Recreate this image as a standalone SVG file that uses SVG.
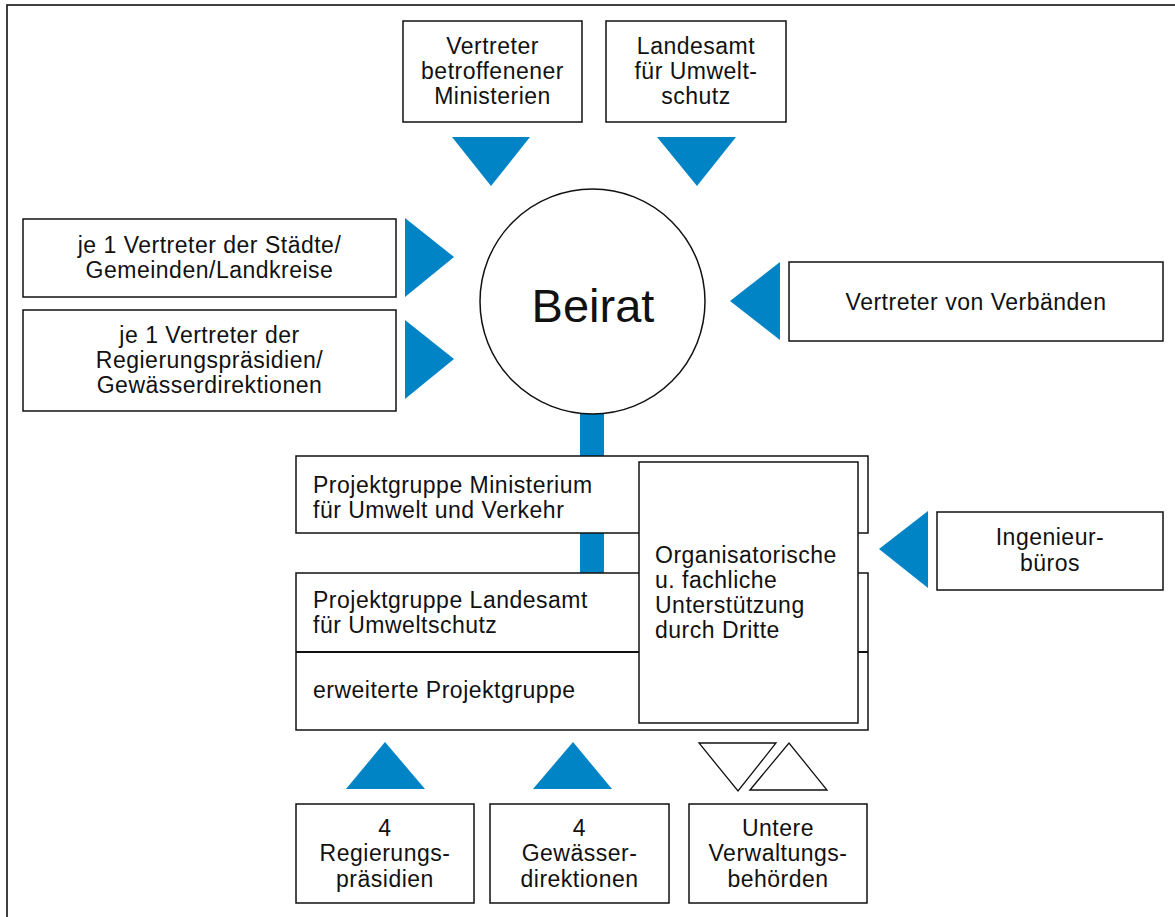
<svg xmlns="http://www.w3.org/2000/svg" width="1175" height="917" viewBox="0 0 1175 917">
<style>
.box{fill:#fff;stroke:#111;stroke-width:1.5}
.tri{fill:#0084c6}
.otri{fill:#fff;stroke:#111;stroke-width:1.3}
text{font-family:"Liberation Sans",Arial,sans-serif;font-size:23px;fill:#111;letter-spacing:0.5px}
.c{text-anchor:middle}
</style>
<rect x="0" y="0" width="1175" height="917" fill="#fff"/>
<rect x="7" y="5" width="1180" height="930" fill="none" stroke="#111" stroke-width="1.6"/>
<g id="connectors">
<rect class="tri" x="580" y="410" width="24" height="48"/>
<rect class="tri" x="580" y="532" width="24" height="43"/>
<polygon class="tri" points="452,137 530,137 491,186"/>
<polygon class="tri" points="657,137 736,137 697,186"/>
<polygon class="tri" points="405,218 454,257 405,297"/>
<polygon class="tri" points="405,320 454,359 405,399"/>
<polygon class="tri" points="780,262 730,301 780,340"/>
<polygon class="tri" points="928,511 879,549 928,588"/>
<polygon class="tri" points="346,789 385,742 425,789"/>
<polygon class="tri" points="533,789 573,742 612,789"/>
<polygon class="otri" points="699,743 776,743 738,791"/>
<polygon class="otri" points="750,790 789,743 827,790"/>
</g>
<g id="beirat">
<circle class="box" cx="592.5" cy="301.5" r="112.5"/>
<text class="c" x="593" y="322" style="font-size:47px;letter-spacing:0">Beirat</text>
</g>
<g id="ministerien">
<rect class="box" x="403" y="21" width="179" height="101"/>
<text class="c" x="492.5" y="54">Vertreter</text>
<text class="c" x="492.5" y="79">betroffenener</text>
<text class="c" x="492.5" y="104">Ministerien</text>
</g>
<g id="landesamt">
<rect class="box" x="606" y="21" width="180" height="101"/>
<text class="c" x="696" y="54">Landesamt</text>
<text class="c" x="696" y="79">für Umwelt-</text>
<text class="c" x="696" y="104">schutz</text>
</g>
<g id="staedte">
<rect class="box" x="23" y="219" width="373" height="78"/>
<text class="c" x="209.5" y="253">je 1 Vertreter der Städte/</text>
<text class="c" x="209.5" y="278">Gemeinden/Landkreise</text>
</g>
<g id="regierung">
<rect class="box" x="23" y="310" width="373" height="101"/>
<text class="c" x="209.5" y="343">je 1 Vertreter der</text>
<text class="c" x="209.5" y="368">Regierungspräsidien/</text>
<text class="c" x="209.5" y="393">Gewässerdirektionen</text>
</g>
<g id="verbaende">
<rect class="box" x="789" y="262" width="374" height="79"/>
<text class="c" x="976" y="310">Vertreter von Verbänden</text>
</g>
<g id="pg-ministerium">
<rect class="box" x="296" y="456" width="572" height="77"/>
<text x="313" y="493">Projektgruppe Ministerium</text>
<text x="313" y="518">für Umwelt und Verkehr</text>
</g>
<g id="pg-landesamt">
<rect class="box" x="296" y="573" width="572" height="157"/>
<line x1="296" y1="652" x2="868" y2="652" stroke="#111" stroke-width="2"/>
<text x="313" y="608">Projektgruppe Landesamt</text>
<text x="313" y="633">für Umweltschutz</text>
<text x="313" y="698">erweiterte Projektgruppe</text>
</g>
<g id="dritte">
<rect class="box" x="639" y="462" width="219" height="261"/>
<text x="655" y="563">Organisatorische</text>
<text x="655" y="588">u. fachliche</text>
<text x="655" y="613">Unterstützung</text>
<text x="655" y="638">durch Dritte</text>
</g>
<g id="ingenieur">
<rect class="box" x="937" y="512" width="226" height="78"/>
<text class="c" x="1050" y="545">Ingenieur-</text>
<text class="c" x="1050" y="571">büros</text>
</g>
<g id="rp">
<rect class="box" x="296" y="804" width="178" height="99"/>
<text class="c" x="385" y="836">4</text>
<text class="c" x="385" y="861">Regierungs-</text>
<text class="c" x="385" y="887">präsidien</text>
</g>
<g id="gd">
<rect class="box" x="490" y="804" width="179" height="99"/>
<text class="c" x="579.5" y="836">4</text>
<text class="c" x="579.5" y="861">Gewässer-</text>
<text class="c" x="579.5" y="887">direktionen</text>
</g>
<g id="uvb">
<rect class="box" x="689" y="804" width="178" height="99"/>
<text class="c" x="778" y="836">Untere</text>
<text class="c" x="778" y="861">Verwaltungs-</text>
<text class="c" x="778" y="887">behörden</text>
</g>
</svg>
